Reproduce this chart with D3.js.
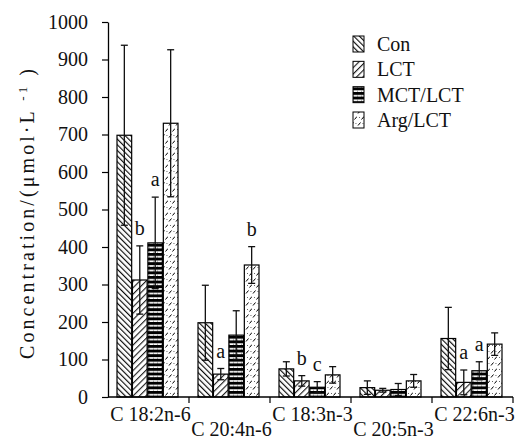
<!DOCTYPE html>
<html>
<head>
<meta charset="utf-8">
<script src="https://cdn.jsdelivr.net/npm/d3@7"></script>
<style>
  body { margin: 0; background: #fff; }
  svg text { font-family: "Liberation Serif", "Times New Roman", Times, "Nimbus Roman", "DejaVu Serif", serif !important; fill: #111; }
</style>
</head>
<body>
<div id="chart"></div>
<script>
const categories = ["C 18:2n-6", "C 20:4n-6", "C 18:3n-3", "C 20:5n-3", "C 22:6n-3"];
const groups = ["Con", "LCT", "MCT/LCT", "Arg/LCT"];

// mean values per group, one entry per category
const conValues = [698, 198, 75, 25, 156];
const lctValues = [312, 61, 43, 18, 39];
const mctValues = [411, 165, 26, 20, 70];
const argValues = [730, 352, 59, 43, 141];

// error (SD) per group
const conErr = [240, 100, 19, 18, 83];
const lctErr = [91, 15, 14, 5, 33];
const mctErr = [122, 65, 15, 16, 24];
const argErr = [196, 49, 22, 17, 30];

// significance letters per category, per group
const sigLetters = [
    ["", "b", "a", ""],
    ["", "a", "", "b"],
    ["", "b", "c", ""],
    ["", "", "", ""],
    ["", "a", "a", ""]
];

const yTicks = [0, 100, 200, 300, 400, 500, 600, 700, 800, 900, 1000];

const W = 515, H = 440;
const margin = { top: 22, right: 2, bottom: 43, left: 108 };

const svg = d3.select("#chart").append("svg")
    .attr("width", W)
    .attr("height", H);

/* patterns */
const defs = svg.append("defs");

const pCon = defs.append("pattern").attr("id", "p-con")
    .attr("patternUnits", "userSpaceOnUse")
    .attr("width", 4).attr("height", 4)
    .attr("patternTransform", "rotate(-45)");
pCon.append("rect").attr("width", 4).attr("height", 4).attr("fill", "#fff");
pCon.append("line").attr("x1", 0.6).attr("y1", 0).attr("x2", 0.6).attr("y2", 4)
    .attr("stroke", "#000").attr("stroke-width", 1.1);

const pLct = defs.append("pattern").attr("id", "p-lct")
    .attr("patternUnits", "userSpaceOnUse")
    .attr("width", 4.5).attr("height", 4)
    .attr("patternTransform", "rotate(45)");
pLct.append("rect").attr("width", 4.5).attr("height", 4).attr("fill", "#fff");
pLct.append("line").attr("x1", 0.6).attr("y1", 0).attr("x2", 0.6).attr("y2", 4)
    .attr("stroke", "#000").attr("stroke-width", 1);

const pMct = defs.append("pattern").attr("id", "p-mct")
    .attr("patternUnits", "userSpaceOnUse")
    .attr("width", 4).attr("height", 4.6);
pMct.append("rect").attr("width", 4).attr("height", 4.6).attr("fill", "#fff");
pMct.append("rect").attr("y", 0).attr("width", 4).attr("height", 2.9).attr("fill", "#000");
pMct.append("rect").attr("x", 1).attr("y", 3.5).attr("width", 1).attr("height", 0.6).attr("fill", "#555");

const pArg = defs.append("pattern").attr("id", "p-arg")
    .attr("patternUnits", "userSpaceOnUse")
    .attr("width", 7).attr("height", 12);
pArg.append("rect").attr("width", 7).attr("height", 12).attr("fill", "#fff");
pArg.append("path").attr("d", "M1,5.5 L3.5,2.5 M4.5,11.5 L7,8.5")
    .attr("stroke", "#000").attr("stroke-width", 1).attr("fill", "none");
pArg.append("rect").attr("x", 5.5).attr("y", 3).attr("width", 0.9).attr("height", 0.9).attr("fill", "#444");
pArg.append("rect").attr("x", 2).attr("y", 9).attr("width", 0.9).attr("height", 0.9).attr("fill", "#444");

const fills = ["url(#p-con)", "url(#p-lct)", "url(#p-mct)", "url(#p-arg)"];

/* scales */
const x0 = d3.scaleBand()
    .domain(categories)
    .range([margin.left, W - margin.right])
    .padding(0);

const x1 = d3.scaleBand()
    .domain(groups)
    .range([9, 70])
    .paddingInner(0.05);

const y = d3.scaleLinear()
    .domain([0, 1000])
    .range([H - margin.bottom, margin.top]);

const allValues = [conValues, lctValues, mctValues, argValues];
const allErr = [conErr, lctErr, mctErr, argErr];

const data = [];
categories.forEach((c, i) => {
    groups.forEach((g, j) => {
        data.push({
            cat: c, group: g, gi: j,
            value: allValues[j][i],
            err: allErr[j][i],
            sig: sigLetters[i][j]
        });
    });
});

/* bars */
svg.append("g").selectAll("rect")
    .data(data)
    .enter()
    .append("rect")
    .attr("x", d => x0(d.cat) + x1(d.group))
    .attr("y", d => y(d.value))
    .attr("width", x1.bandwidth())
    .attr("height", d => y(0) - y(d.value))
    .attr("fill", d => fills[d.gi])
    .attr("stroke", "#000")
    .attr("stroke-width", 1.2);

/* error bars */
const eb = svg.append("g").attr("stroke", "#111").attr("stroke-width", 1.3);
data.forEach(d => {
    const cx = x0(d.cat) + x1(d.group) + x1.bandwidth() / 2;
    const top = y(d.value + d.err), bot = y(Math.max(0, d.value - d.err));
    eb.append("line").attr("x1", cx).attr("x2", cx).attr("y1", top).attr("y2", bot);
    eb.append("line").attr("x1", cx - 3.5).attr("x2", cx + 3.5).attr("y1", top).attr("y2", top);
    eb.append("line").attr("x1", cx - 3.5).attr("x2", cx + 3.5).attr("y1", bot).attr("y2", bot);
});

/* significance letters */
svg.append("g").selectAll("text")
    .data(data.filter(d => d.sig))
    .enter()
    .append("text")
    .attr("x", d => x0(d.cat) + x1(d.group) + x1.bandwidth() / 2)
    .attr("y", d => y(d.value + d.err) - 11)
    .attr("text-anchor", "middle")
    .style("font-size", "20px")
    .text(d => d.sig);

/* Y axis */
const yAxis = svg.append("g")
    .attr("transform", `translate(${margin.left},0)`)
    .call(d3.axisLeft(y).tickValues(yTicks).tickFormat(d3.format("d"))
        .tickSize(6).tickPadding(14).tickSizeOuter(0));
yAxis.attr("font-family", null);
yAxis.select(".domain").attr("stroke", "#000").attr("stroke-width", 1.3);
yAxis.selectAll(".tick line").attr("stroke", "#000").attr("stroke-width", 1.2);
yAxis.selectAll(".tick text")
    .style("font-size", "20px")
    .attr("fill", "#111");

/* X axis */
const xAxisG = svg.append("g").attr("transform", `translate(0,${y(0)})`);
xAxisG.append("line")
    .attr("x1", margin.left).attr("x2", W - margin.right)
    .attr("y1", 0).attr("y2", 0)
    .attr("stroke", "#000").attr("stroke-width", 1.3);
xAxisG.selectAll(".xtick")
    .data(categories)
    .enter()
    .append("line")
    .attr("x1", d => x0(d) + x0.bandwidth())
    .attr("x2", d => x0(d) + x0.bandwidth())
    .attr("y1", 0).attr("y2", 6)
    .attr("stroke", "#000").attr("stroke-width", 1.2);
xAxisG.selectAll(".xlabel")
    .data(categories)
    .enter()
    .append("text")
    .attr("x", d => x0(d) + x0.bandwidth() / 2 + 2)
    .attr("y", (d, i) => i % 2 === 0 ? 24 : 39)
    .attr("text-anchor", "middle")
    .style("font-size", "20px")
    .text(d => d);

/* Y label */
const yl = svg.append("text")
    .attr("transform", "translate(34,214) rotate(-90)")
    .attr("text-anchor", "middle")
    .attr("textLength", 290)
    .attr("lengthAdjust", "spacing")
    .style("font-size", "20px");
yl.append("tspan").text("Concentration/(\u03bcmol\u00b7L ");
yl.append("tspan").attr("dy", -7).style("font-size", "13px").text("-1");
yl.append("tspan").attr("dy", 7).text(" )");

/* legend */
const legend = svg.append("g");
const ly = d3.scalePoint().domain(groups).range([44, 120]);
groups.forEach((g, i) => {
    legend.append("rect")
        .attr("x", 353).attr("y", ly(g) - 8)
        .attr("width", 11).attr("height", 16)
        .attr("fill", fills[i])
        .attr("stroke", "#000").attr("stroke-width", 1);
    legend.append("text")
        .attr("x", 377).attr("y", ly(g) + 7)
        .style("font-size", "20px")
        .text(g);
});
</script>
</body>
</html>
